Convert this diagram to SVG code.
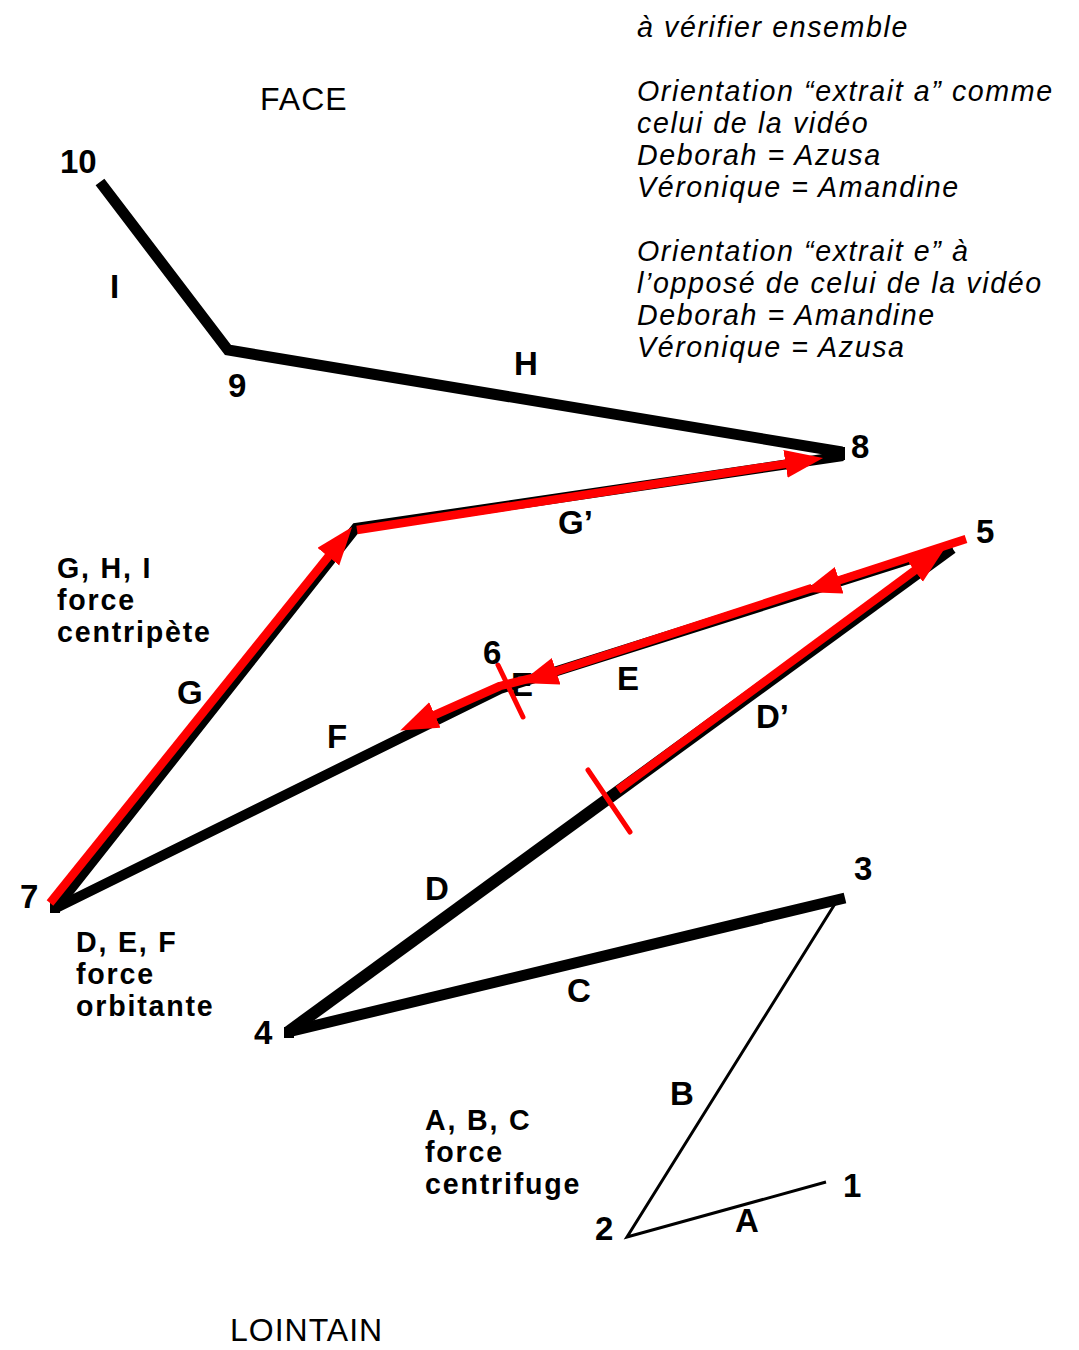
<svg xmlns="http://www.w3.org/2000/svg" width="1079" height="1350" viewBox="0 0 1079 1350">
<style>
.b{font-family:"Liberation Sans",Arial,sans-serif;font-weight:bold;font-size:33px;fill:#000}
.bl{font-family:"Liberation Sans",Arial,sans-serif;font-weight:bold;font-size:28.6px;letter-spacing:1.8px;fill:#000}
.i{font-family:"Liberation Sans",Arial,sans-serif;font-style:italic;font-size:28.6px;letter-spacing:1.6px;fill:#000}
.r{font-family:"Liberation Sans",Arial,sans-serif;font-size:32px;fill:#000;letter-spacing:1px}
.k{fill:none;stroke:#000;stroke-linecap:butt}
.red{fill:none;stroke:#ff0000;stroke-width:8.5;stroke-linecap:butt;stroke-linejoin:round}
.tick{stroke:#ff0000;stroke-width:5;stroke-linecap:round}
</style>
<defs>
<marker id="arrow" markerUnits="userSpaceOnUse" markerWidth="40" markerHeight="30" refX="8" refY="14" orient="auto">
<path d="M0,0 L38,14 L0,28 z" fill="#ff0000"/>
</marker>
</defs>
<rect width="1079" height="1350" fill="#fff"/>
<g id="connectors">
<polyline class="k" stroke-width="3" stroke-linejoin="miter" points="826,1182 627,1237 838,899"/>
<line class="k" stroke-width="11" x1="288" y1="1032" x2="845" y2="898"/>
<line class="k" stroke-width="12" x1="288" y1="1032" x2="952" y2="548"/>
<rect x="284" y="1027" width="10" height="11" fill="#000"/>
<polyline class="k" stroke-width="11" stroke-linejoin="miter" points="100,182 228,350 842,452"/>
<polyline class="k" stroke-width="10" stroke-linejoin="miter" stroke-miterlimit="10" points="843,456 356,528 56,908"/>
<polyline class="k" stroke-width="10" stroke-linejoin="round" points="56,908 500,689 952,546"/>
<rect x="836" y="447" width="9" height="13" fill="#000"/>
<rect x="50" y="903" width="10" height="10" fill="#000"/>
<text class="b" x="511" y="696">E</text>
<line class="red" x1="50" y1="903" x2="333.3" y2="550.4" marker-end="url(#arrow)"/>
<line class="red" x1="357" y1="530" x2="793.4" y2="462.6" marker-end="url(#arrow)"/>
<line class="red" x1="618" y1="790" x2="920.9" y2="565.8" marker-end="url(#arrow)"/>
<line class="red" x1="966" y1="539" x2="831.6" y2="582.8" marker-end="url(#arrow)"/>
<line class="red" x1="812" y1="588" x2="548.6" y2="673.8" marker-end="url(#arrow)"/>
<polyline class="red" points="532,678 500,686 427.6,718.2" marker-end="url(#arrow)"/>
<line class="tick" x1="498" y1="665" x2="523" y2="717"/>
<line class="tick" x1="588" y1="770" x2="630" y2="832"/>
</g>
<g id="node-1"><text class="b" x="843" y="1197">1</text></g>
<g id="node-2"><text class="b" x="595" y="1240">2</text></g>
<g id="node-3"><text class="b" x="854" y="880">3</text></g>
<g id="node-4"><text class="b" x="254" y="1044">4</text></g>
<g id="node-5"><text class="b" x="976" y="543">5</text></g>
<g id="node-6"><text class="b" x="483" y="664">6</text></g>
<g id="node-7"><text class="b" x="20" y="908">7</text></g>
<g id="node-8"><text class="b" x="851" y="458">8</text></g>
<g id="node-9"><text class="b" x="228" y="397">9</text></g>
<g id="node-10"><text class="b" x="60" y="173">10</text></g>
<g id="segment-labels">
<text class="b" x="735" y="1232">A</text>
<text class="b" x="670" y="1105">B</text>
<text class="b" x="567" y="1002">C</text>
<text class="b" x="425" y="900">D</text>
<text class="b" x="756" y="728">D’</text>
<text class="b" x="617" y="690">E</text>
<text class="b" x="327" y="748">F</text>
<text class="b" x="177" y="704">G</text>
<text class="b" x="558" y="534">G’</text>
<text class="b" x="514" y="375">H</text>
<text class="b" x="110" y="298">I</text>
</g>
<g id="legend-abc"><text class="bl" x="425" y="1130">A, B, C</text><text class="bl" x="425" y="1162">force</text><text class="bl" x="425" y="1194">centrifuge</text></g>
<g id="legend-def"><text class="bl" x="76" y="952">D, E, F</text><text class="bl" x="76" y="984">force</text><text class="bl" x="76" y="1016">orbitante</text></g>
<g id="legend-ghi"><text class="bl" x="57" y="578">G, H, I</text><text class="bl" x="57" y="610">force</text><text class="bl" x="57" y="642">centripète</text></g>
<g id="orientation">
<text class="r" x="260" y="110">FACE</text>
<text class="r" x="230" y="1341">LOINTAIN</text>
</g>
<g id="notes">
<text class="i" x="637" y="37">à vérifier ensemble</text>
<text class="i" x="637" y="101">Orientation “extrait a” comme</text>
<text class="i" x="637" y="133">celui de la vidéo</text>
<text class="i" x="637" y="165">Deborah = Azusa</text>
<text class="i" x="637" y="197">Véronique = Amandine</text>
<text class="i" x="637" y="261">Orientation “extrait e” à</text>
<text class="i" x="637" y="293">l’opposé de celui de la vidéo</text>
<text class="i" x="637" y="325">Deborah = Amandine</text>
<text class="i" x="637" y="357">Véronique = Azusa</text>
</g>
</svg>
